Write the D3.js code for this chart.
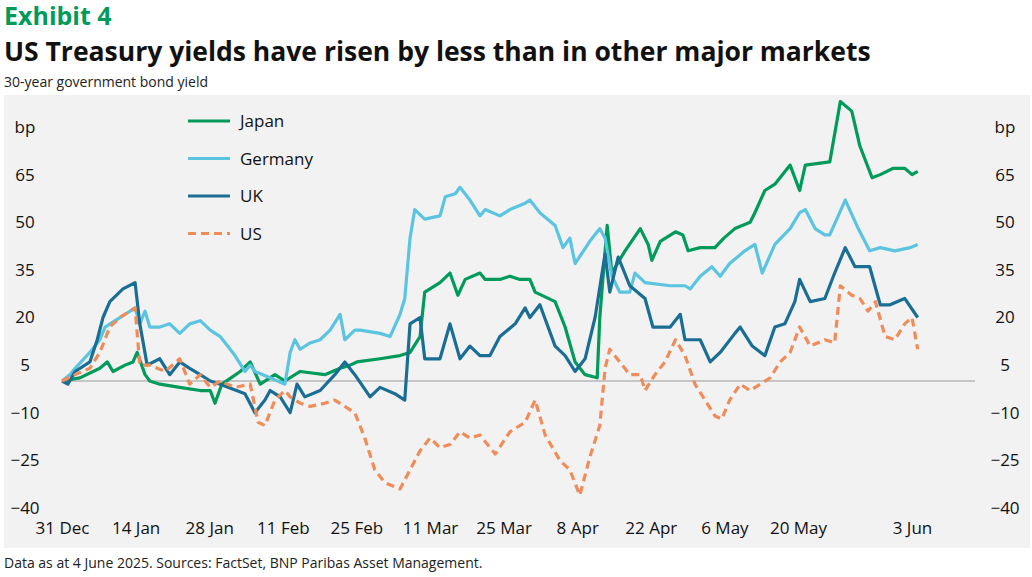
<!DOCTYPE html>
<html><head><meta charset="utf-8">
<script src="https://cdn.jsdelivr.net/npm/d3@7"></script>
<style>body{margin:0;background:#fff;font-family:"Open Sans",sans-serif}</style>
</head><body><svg id="c" width="1032" height="577"></svg>
<script>
// x values: days since 31 Dec 2024
const tickDays = [0,14,28,42,56,70,84,98,112,126,140,154];
const tickLabels = ["31 Dec","14 Jan","28 Jan","11 Feb","25 Feb","11 Mar","25 Mar","8 Apr","22 Apr","6 May","20 May","3 Jun"];
const yTicks = [-40,-25,-10,5,20,35,50,65];
const japan = [[0,0],[3.4,1],[7.2,4],[8.6,6],[9.7,3],[12,5],[13.5,6],[14.3,9],[15.8,2],[16.7,0],[18.6,-1],[22.4,-2],[26.3,-3],[28.2,-3],[29.1,-7],[30.4,-1],[33.9,3],[35.8,6],[37.7,-1],[40.5,2],[42.4,0],[45.3,3],[50,2],[52.9,4],[54.8,5],[56.1,6],[60.5,7],[64.3,8],[66.2,9],[68.1,14],[69,28],[71.9,31],[73.8,34],[75.3,27],[76.7,32],[79.5,34],[80.5,32],[83.3,32],[85.2,33],[87.1,32],[89,32],[90,28],[93.8,25],[95.7,17],[97.6,6],[99.5,2],[101.8,1],[102.3,20],[103.7,49],[104.6,34],[107.1,41],[110,48],[111.5,43],[112.2,38],[113.8,44],[116.7,47],[118.1,46],[119.1,41],[121.4,42],[124.2,42],[125.9,45],[128,48],[130.9,50],[131.8,53],[133.7,60],[135.6,62],[138.5,68],[140.2,60],[140.9,68],[143.9,69],[145.2,88],[146.6,85],[147.6,74],[149.1,64],[150.1,65],[151.7,67],[153.1,67],[154,65],[154.7,66]];
const germany = [[0,0],[1.5,2],[2.5,4],[5.3,9],[7.2,13],[8.2,17],[10.1,19],[12,21],[13.9,23],[14.8,18],[15.8,22],[16.7,17],[18.6,17],[20.5,18],[22.4,15],[24.3,18],[26.3,19],[28.2,16],[30.1,14],[32.9,8],[34.8,3],[35.8,5],[36.7,3],[39.6,1],[42.4,-1],[43.4,9],[44.3,13],[45.3,10],[47.2,12],[49.1,13],[51,16],[52.9,21],[53.8,13],[55.7,16],[56.7,16],[60.5,15],[62.4,14],[64.3,21],[65.2,26],[66.2,45],[67.1,54],[69,51],[71.9,52],[72.9,58],[74.8,59],[75.7,61],[77.6,57],[79.5,52],[80.5,54],[83.3,52],[85.2,54],[88.1,56],[89,57],[90.9,53],[93.8,49],[95.3,42],[96.6,45],[97.6,37],[100.4,44],[102.3,48],[103.3,45],[104.6,33],[106.1,28],[108,28],[109,34],[110.9,31],[115.7,30],[118.5,30],[119.5,29],[121.4,33],[123.6,36],[125.2,33],[127,37],[129.9,41],[131.8,43],[133.2,34],[135.6,43],[138.5,48],[140.2,53],[140.9,54],[142.1,48],[143.3,46],[143.9,46],[145.8,57],[147.4,48],[148.8,41],[150.1,42],[151.9,41],[153.8,42],[154.7,43]];
const uk = [[0,0],[1.1,-1],[2.5,3],[5.3,6],[6.7,13],[7.8,20],[9.1,25],[11.6,29],[13.9,31],[14.8,18],[16.2,5],[18.6,7],[20.5,2],[22.4,6],[24.3,4],[26.3,2],[28.2,0],[30.1,-1],[34.8,-4],[36.7,-10],[38.6,-6],[39.6,-3],[41.5,-5],[43.4,-10],[44.7,-1],[46.2,-5],[49.1,-3],[51.9,2],[53.8,6],[55.7,2],[58.6,-5],[60.5,-2],[63.3,-4],[65.2,-6],[66.2,18],[68.1,20],[69,7],[71.9,7],[73.8,18],[75.7,7],[77.6,11],[79.5,8],[81.4,8],[83.3,14],[86.2,18],[88.1,23],[89,20],[90.9,24],[93.8,11],[95.7,8],[97.6,3],[99.5,7],[101.4,20],[103.3,40],[104.2,28],[105.8,39],[108,30],[110.9,26],[112.4,17],[115.7,17],[117.6,21],[118.5,13],[121.4,13],[123.3,6],[125.2,9],[128,15],[129,17],[131.3,11],[133.7,8],[135.6,17],[137.5,18],[139.4,25],[140.2,32],[141.5,25],[143.3,26],[144.5,34],[145.8,42],[147,36],[148.8,36],[150.1,24],[151.3,24],[153.1,26],[154.7,20]];
const us = [[0,0],[2.5,2],[5.3,4],[7.2,9],[9.1,17],[11,20],[13.9,23],[14.8,5],[16.7,5],[19.6,3],[22.4,7],[24.3,-1],[26.3,2],[28.2,-2],[30.1,0],[32.9,-2],[35.8,-1],[37.3,-13],[38.6,-14],[40.5,-6],[42.4,-3],[43.4,-5],[45.3,-7],[47.2,-8],[50,-7],[51.9,-6],[53.8,-8],[55.7,-10],[57.6,-18],[59.5,-28],[61.4,-32],[64.3,-34],[66.2,-28],[68.1,-22],[70,-18],[71.9,-21],[73.8,-20],[75.7,-16],[77.6,-18],[79.5,-17],[82.4,-23],[85.2,-16],[88.1,-13],[90,-6],[91.9,-17],[94.7,-25],[96.6,-28],[98.5,-36],[100.4,-24],[102.3,-14],[103.3,4],[104.2,10],[106.1,6],[108,2],[110,2],[110.9,-3],[112.8,2],[114.7,6],[116.7,13],[118.5,8],[120.4,-1],[122.3,-6],[124.2,-11],[125.5,-12],[127,-6],[129,-1],[130.9,-3],[132.8,-1],[134.7,1],[136.6,6],[138.5,9],[140.2,17],[141.5,11],[143.3,13],[144.5,12],[145.2,30],[146.6,27],[147.6,26],[148.6,22],[149.5,25],[150.7,14],[151.9,13],[153.1,18],[154,20],[154.7,10]];
const seriesNames = ["Japan","Germany","UK","US"];
const seriesColors = ["#009a5a","#5bc4e0","#1a6e94","#f08c5a"];

const svg = d3.select("#c");
svg.append("rect").attr("x",4).attr("y",95).attr("width",1026).attr("height",453).attr("fill","#f2f2f2");
svg.append("text").attr("x",4).attr("y",25).attr("fill","#009a5a").attr("font-size",25).attr("font-weight","bold").text("Exhibit 4");
svg.append("text").attr("x",4).attr("y",61).attr("fill","#111").attr("font-size",26.5).attr("font-weight","bold").text("US Treasury yields have risen by less than in other major markets");
svg.append("text").attr("x",4).attr("y",87).attr("fill","#222").attr("font-size",14).text("30-year government bond yield");
svg.append("text").attr("x",4).attr("y",568).attr("fill","#222").attr("font-size",14).text("Data as at 4 June 2025. Sources: FactSet, BNP Paribas Asset Management.");

const x = d3.scaleLinear().domain([0,140,154]).range([62,798,912]);
const y = d3.scaleLinear().domain([0,80]).range([381,127]);

svg.append("line").attr("x1",62).attr("x2",975).attr("y1",y(0)).attr("y2",y(0)).attr("stroke","#999").attr("stroke-width",1);

const left = svg.append("g").attr("transform","translate(48,0)").call(d3.axisLeft(y).tickValues(yTicks).tickSize(0).tickPadding(0));
const right = svg.append("g").attr("transform","translate(985,0)").call(d3.axisRight(y).tickValues(yTicks).tickSize(0).tickPadding(0));
[left,right].forEach(g=>{g.select(".domain").remove();g.selectAll("text").attr("font-size",17).attr("fill","#111").attr("font-family","Open Sans").attr("text-anchor","middle").attr("dx",g===left?-23:20);});
svg.append("text").attr("x",25).attr("y",y(80)+6).attr("text-anchor","middle").attr("font-size",17).attr("fill","#111").text("bp");
svg.append("text").attr("x",1005).attr("y",y(80)+6).attr("text-anchor","middle").attr("font-size",17).attr("fill","#111").text("bp");

const xa = svg.append("g").attr("transform","translate(0,522)").call(d3.axisBottom(x).tickValues(tickDays).tickFormat((d,i)=>tickLabels[i]).tickSize(0).tickPadding(0));
xa.select(".domain").remove();
xa.selectAll("text").attr("font-size",17).attr("fill","#111").attr("font-family","Open Sans");

const line = d3.line().x(d=>x(d[0])).y(d=>y(d[1]));
[japan,germany,uk,us].forEach((s,i)=>{
  svg.append("path").datum(s).attr("d",line).attr("fill","none").attr("stroke",seriesColors[i]).attr("stroke-width",3.2)
    .attr("stroke-linejoin","round").attr("stroke-dasharray",i===3?"8,5":null);
});
seriesNames.forEach((n,i)=>{
  const yy = 121+i*37.5;
  svg.append("line").attr("x1",188).attr("x2",230).attr("y1",yy).attr("y2",yy).attr("stroke",seriesColors[i]).attr("stroke-width",3.2).attr("stroke-dasharray",i===3?"8,5":null);
  svg.append("text").attr("x",240).attr("y",yy+6).attr("font-size",17).attr("fill","#111").text(n);
});
</script></body></html>
